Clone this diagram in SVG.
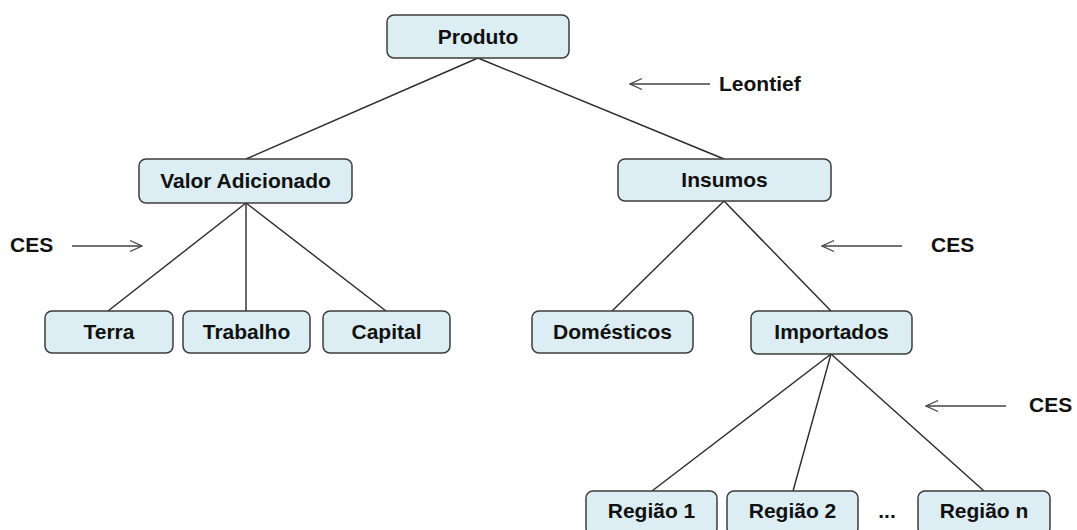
<svg xmlns="http://www.w3.org/2000/svg" width="1077" height="530" viewBox="0 0 1077 530">
<defs>
<style>
.box{fill:#dcedf3;stroke:#3c3c3c;stroke-width:1.5}
.t{font-family:"Liberation Sans",Arial,sans-serif;font-weight:bold;font-size:21px;fill:#111;text-anchor:middle}
.l{font-family:"Liberation Sans",Arial,sans-serif;font-weight:bold;font-size:21px;fill:#111}
.c{stroke:#2a2a2a;stroke-width:1.4;fill:none}
.a{stroke:#444;stroke-width:1.3;fill:none}
</style>
<marker id="ah" viewBox="0 0 14 14" refX="13" refY="7" markerWidth="14" markerHeight="14" markerUnits="userSpaceOnUse" orient="auto">
<path d="M1,1.5 L13,7 L1,12.5" fill="none" stroke="#444" stroke-width="1.3"/>
</marker>
</defs>
<rect width="1077" height="530" fill="#ffffff"/>
<g id="connectors">
<line class="c" x1="478" y1="58" x2="246" y2="159"/>
<line class="c" x1="478" y1="58" x2="724" y2="159"/>
<line class="c" x1="246" y1="203" x2="108" y2="311"/>
<line class="c" x1="246" y1="203" x2="246" y2="311"/>
<line class="c" x1="246" y1="203" x2="386" y2="311"/>
<line class="c" x1="724" y1="201" x2="612" y2="311"/>
<line class="c" x1="724" y1="201" x2="831" y2="311"/>
<line class="c" x1="831" y1="354" x2="652" y2="491"/>
<line class="c" x1="831" y1="354" x2="793" y2="491"/>
<line class="c" x1="831" y1="354" x2="984" y2="491"/>
</g>
<g id="annotations">
<line class="a" x1="710" y1="84" x2="630" y2="84" marker-end="url(#ah)"/>
<text class="l" x="719" y="91">Leontief</text>
<line class="a" x1="72" y1="246" x2="142" y2="246" marker-end="url(#ah)"/>
<text class="l" x="10" y="252">CES</text>
<line class="a" x1="902" y1="246" x2="822" y2="246" marker-end="url(#ah)"/>
<text class="l" x="931" y="252">CES</text>
<line class="a" x1="1006" y1="406" x2="926" y2="406" marker-end="url(#ah)"/>
<text class="l" x="1029" y="412">CES</text>
<text class="t" x="887" y="518">...</text>
</g>
<g id="produto"><rect class="box" x="387" y="15" width="182" height="43" rx="7"/><text class="t" x="478" y="44">Produto</text></g>
<g id="valor"><rect class="box" x="139" y="159" width="213" height="44" rx="7"/><text class="t" x="245.5" y="188">Valor Adicionado</text></g>
<g id="insumos"><rect class="box" x="618" y="159" width="213" height="42" rx="7"/><text class="t" x="724.5" y="187">Insumos</text></g>
<g id="terra"><rect class="box" x="45" y="311" width="128" height="42" rx="7"/><text class="t" x="109" y="339">Terra</text></g>
<g id="trabalho"><rect class="box" x="183" y="311" width="127" height="42" rx="7"/><text class="t" x="246.5" y="339">Trabalho</text></g>
<g id="capital"><rect class="box" x="323" y="311" width="127" height="42" rx="7"/><text class="t" x="386.5" y="339">Capital</text></g>
<g id="domesticos"><rect class="box" x="532" y="311" width="161" height="42" rx="7"/><text class="t" x="612.5" y="339">Domésticos</text></g>
<g id="importados"><rect class="box" x="751" y="311" width="161" height="43" rx="7"/><text class="t" x="831.5" y="339">Importados</text></g>
<g id="regiao1"><rect class="box" x="586" y="491" width="131" height="44" rx="7"/><text class="t" x="651.5" y="518">Região 1</text></g>
<g id="regiao2"><rect class="box" x="727" y="491" width="131" height="44" rx="7"/><text class="t" x="792.5" y="518">Região 2</text></g>
<g id="regiaon"><rect class="box" x="918" y="491" width="132" height="44" rx="7"/><text class="t" x="984" y="518">Região n</text></g>
</svg>
